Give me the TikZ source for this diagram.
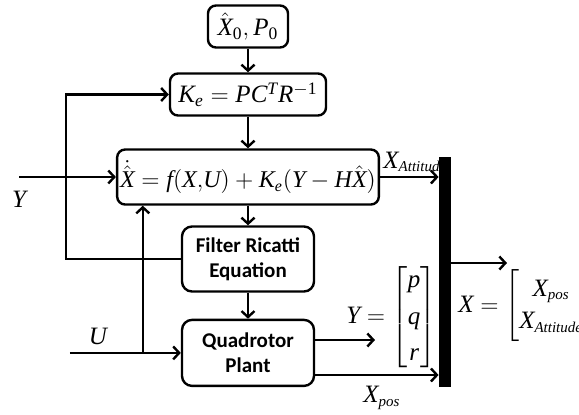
\documentclass[tikz,border=0pt]{standalone}
\usepackage{amsmath}
\usepackage{mathspec}
\setmainfont{Liberation Serif}
\setmathsfont(Digits,Latin){Liberation Serif}
\newfontfamily\boxfont{Carlito}
\usetikzlibrary{arrows.meta,positioning}
\newcommand{\subtxt}[1]{\mbox{\fontsize{7.5}{8}\selectfont\itshape #1}}
\tikzset{
  eqbox/.style={draw, rounded corners=4pt, line width=1.2pt, align=center, inner sep=1.5pt, font=\fontsize{12.5}{14}\selectfont},
  textbox/.style={draw, rounded corners=5pt, line width=1.2pt, align=center, inner sep=2pt, font=\boxfont\bfseries\fontsize{10.5}{12.5}\selectfont},
  busbar/.style={fill=black, inner sep=0pt, minimum width=6pt},
  flow/.style={-{Straight Barb[length=3pt, width=6.5pt]}, line width=1.2pt},
  siglabel/.style={inner sep=0pt, font=\fontsize{12.5}{14}\selectfont}
}

\begin{document}
\begin{tikzpicture}[x=0.5pt, y=-0.5pt]
  \useasboundingbox (0,0) rectangle (579,414);
  % estimator chain
  \node[eqbox, minimum width=40pt, minimum height=21pt] (init) at (248,26.5) {$\hat{X}_0, P_0$};
  \node[eqbox, minimum width=78pt, minimum height=21pt, below=11.8pt of init] (gain) {$K_e = PC^T R^{-1}$};
  \node[eqbox, minimum width=128.5pt, minimum height=27.5pt, below=15.8pt of gain, font=\fontsize{12}{14}\selectfont] (est) {$\dot{\hat{X}} = f(X{,}U) + K_e(Y - H\hat{X})$};
  \node[textbox, minimum width=66pt, minimum height=32.5pt, below=9.8pt of est] (ricatti) {Filter Ricatti\\Equation};
  \node[textbox, minimum width=66pt, minimum height=33pt, below=13pt of ricatti] (plant) {Quadrotor\\Plant};
  \node[busbar, minimum height=115pt] (bus) at (445,272) {};
  \draw[flow] (init) -- (gain);
  \draw[flow] (gain) -- (est);
  \draw[flow] (est) -- (ricatti);
  \draw[flow] (ricatti) -- (plant);
  % feedback to the gain
  \coordinate[left=57.5pt of ricatti.west] (loop);
  \draw[flow] (ricatti.west) -- (loop) |- (gain.west);
  % inputs
  \node[siglabel] (ylab) at (19,199) {$Y$};
  \coordinate (yin) at (ylab |- est.west);
  \draw[flow] (yin) -- (est.west);
  \coordinate[left=55.5pt of plant.west] (uin);
  \coordinate[left=19pt of plant.west] (usplit);
  \draw[flow] (uin) -- (plant.west);
  \draw[flow] (usplit) -- (usplit |- est.south);
  \node[siglabel] (ulab) at (98,336) {$U$};
  % outputs
  \draw[flow] (est.east) -- (est.east -| bus.west);
  \node[siglabel, anchor=west] (xatt) at (383,162) {$X_{\subtxt{Attitude}}$};
  \coordinate (yout) at (375,340);
  \draw[flow] (plant.east |- yout) -- (yout);
  \node[siglabel, anchor=west] (ymat) at (346,317) {$Y = {\arraycolsep=3pt\renewcommand{\arraystretch}{1.3}\begin{bmatrix} p\\ q\\ r \end{bmatrix}}$};
  \coordinate (xposlvl) at (0,375);
  \draw[flow] (plant.east |- xposlvl) -- (xposlvl -| bus.west);
  \node[siglabel] (xposlab) at (382,398) {$X_{\subtxt{pos}}$};
  \coordinate (xout) at (507,263);
  \draw[flow] (bus.east |- xout) -- (xout);
  \node[siglabel, anchor=west] (xmat) at (458,306) {$X = {\arraycolsep=1.5pt\renewcommand{\arraystretch}{1.15}\begin{bmatrix} X_{\subtxt{pos}}\\ X_{\subtxt{Attitude}} \end{bmatrix}}$};
\end{tikzpicture}
\end{document}
